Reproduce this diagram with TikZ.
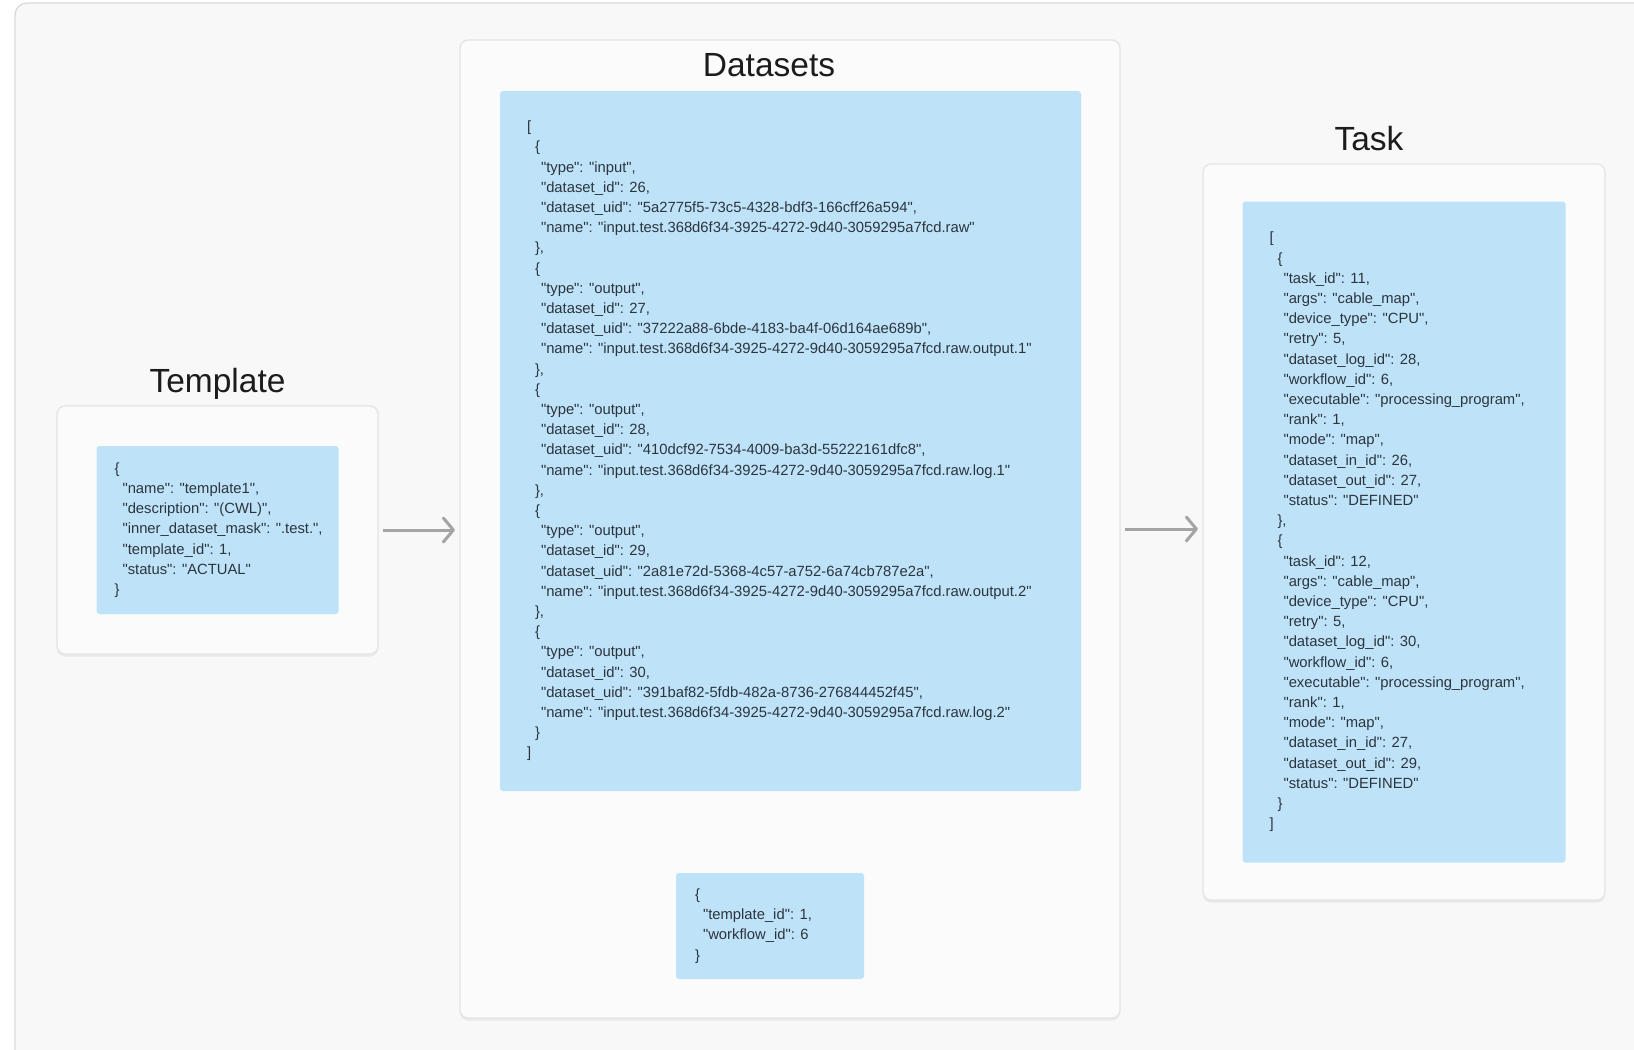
\documentclass[tikz,border=0pt]{standalone}
\usepackage{fontspec}
\setmainfont{Liberation Sans}[Ligatures=TeXOff]
\usetikzlibrary{arrows.meta, shadows}

\definecolor{framebg}{HTML}{F8F8F8}
\definecolor{frameline}{HTML}{DADADA}
\definecolor{boxbg}{HTML}{FBFBFB}
\definecolor{boxline}{HTML}{E4E4E4}
\definecolor{jsonblue}{HTML}{BEE3F9}
\definecolor{jsontext}{HTML}{2C343D}
\definecolor{titleblack}{HTML}{1C1C1C}
\definecolor{arrowgray}{HTML}{A4A4A4}

\newcommand{\ia}{\hspace*{8pt}}
\newcommand{\ib}{\hspace*{14pt}}

\begin{document}
\begin{tikzpicture}[
    x=1pt, y=-1pt,
    container/.style={draw=boxline, line width=1.3pt, rounded corners=8pt, fill=boxbg, inner sep=0pt,
        drop shadow={shadow xshift=0pt, shadow yshift=-2.5pt, fill=black, opacity=0.06}},
    panel/.style={fill=jsonblue, rounded corners=3pt, inner sep=0pt},
    json/.style={anchor=west, align=left, inner sep=0pt, text=jsontext, font=\fontsize{14.8}{20.2}\selectfont},
    title/.style={anchor=base, text=titleblack, font=\fontsize{33.5}{40}\selectfont},
    arrow/.style={-{Straight Barb[length=10pt, width=24pt, round]}, line width=3pt, draw=arrowgray, shorten <=4.5pt, shorten >=4.5pt}
]

% Canvas
\clip (0,0) rectangle (1634,1050);
\fill[white] (0,0) rectangle (1634,1050);
\draw[draw=frameline, fill=framebg, line width=1.3pt, rounded corners=12pt] (15,3) rectangle (1690,1100);

% Containers
\node[container, minimum width=321pt, minimum height=248pt] (tmplbox) at (217.5,530) {};
\node[container, minimum width=660pt, minimum height=978pt] (dsbox) at (790,529) {};
\node[container, minimum width=402pt, minimum height=736pt] (taskbox) at (1404,532) {};

% Titles
\node[title] (tmpltitle) at ([yshift=13pt]tmplbox.north) {Template};
\node[title] (dstitle) at ([xshift=-21pt, yshift=-37pt]dsbox.north) {Datasets};
\node[title] (tasktitle) at ([xshift=-35pt, yshift=12.5pt]taskbox.north) {Task};

% Blue panels
\node[panel, minimum width=242pt, minimum height=168pt] (tmplpanel) at (tmplbox) {};
\node[panel, minimum width=581pt, minimum height=700pt] (dspanel) at (790.5,441) {};
\node[panel, minimum width=188pt, minimum height=106pt] (idpanel) at (770,926) {};
\node[panel, minimum width=323pt, minimum height=661pt] (taskpanel) at (taskbox) {};

% JSON contents
\node[json] (tmpljson) at ([xshift=18pt]tmplpanel.west) {%
\{\\
\ia"name": "template1",\\
\ia"description": "(CWL)",\\
\ia"inner\_dataset\_mask": ".test.",\\
\ia"template\_id": 1,\\
\ia"status": "ACTUAL"\\
\}};

\node[json] (dsjson) at ([xshift=27pt]dspanel.west) {%
[\\
\ia\{\\
\ib"type": "input",\\
\ib"dataset\_id": 26,\\
\ib"dataset\_uid": "5a2775f5-73c5-4328-bdf3-166cff26a594",\\
\ib"name": "input.test.368d6f34-3925-4272-9d40-3059295a7fcd.raw"\\
\ia\},\\
\ia\{\\
\ib"type": "output",\\
\ib"dataset\_id": 27,\\
\ib"dataset\_uid": "37222a88-6bde-4183-ba4f-06d164ae689b",\\
\ib"name": "input.test.368d6f34-3925-4272-9d40-3059295a7fcd.raw.output.1"\\
\ia\},\\
\ia\{\\
\ib"type": "output",\\
\ib"dataset\_id": 28,\\
\ib"dataset\_uid": "410dcf92-7534-4009-ba3d-55222161dfc8",\\
\ib"name": "input.test.368d6f34-3925-4272-9d40-3059295a7fcd.raw.log.1"\\
\ia\},\\
\ia\{\\
\ib"type": "output",\\
\ib"dataset\_id": 29,\\
\ib"dataset\_uid": "2a81e72d-5368-4c57-a752-6a74cb787e2a",\\
\ib"name": "input.test.368d6f34-3925-4272-9d40-3059295a7fcd.raw.output.2"\\
\ia\},\\
\ia\{\\
\ib"type": "output",\\
\ib"dataset\_id": 30,\\
\ib"dataset\_uid": "391baf82-5fdb-482a-8736-276844452f45",\\
\ib"name": "input.test.368d6f34-3925-4272-9d40-3059295a7fcd.raw.log.2"\\
\ia\}\\
]};

\node[json] (idjson) at ([xshift=19pt]idpanel.west) {%
\{\\
\ia"template\_id": 1,\\
\ia"workflow\_id": 6\\
\}};

\node[json] (taskjson) at ([xshift=27pt]taskpanel.west) {%
[\\
\ia\{\\
\ib"task\_id": 11,\\
\ib"args": "cable\_map",\\
\ib"device\_type": "CPU",\\
\ib"retry": 5,\\
\ib"dataset\_log\_id": 28,\\
\ib"workflow\_id": 6,\\
\ib"executable": "processing\_program",\\
\ib"rank": 1,\\
\ib"mode": "map",\\
\ib"dataset\_in\_id": 26,\\
\ib"dataset\_out\_id": 27,\\
\ib"status": "DEFINED"\\
\ia\},\\
\ia\{\\
\ib"task\_id": 12,\\
\ib"args": "cable\_map",\\
\ib"device\_type": "CPU",\\
\ib"retry": 5,\\
\ib"dataset\_log\_id": 30,\\
\ib"workflow\_id": 6,\\
\ib"executable": "processing\_program",\\
\ib"rank": 1,\\
\ib"mode": "map",\\
\ib"dataset\_in\_id": 27,\\
\ib"dataset\_out\_id": 29,\\
\ib"status": "DEFINED"\\
\ia\}\\
]};

% Connections
\draw[arrow] (tmplbox.east) -- (tmplbox.east -| dsbox.west);
\draw[arrow] (dsbox.east) -- (dsbox.east -| taskbox.west);

\end{tikzpicture}
\end{document}
